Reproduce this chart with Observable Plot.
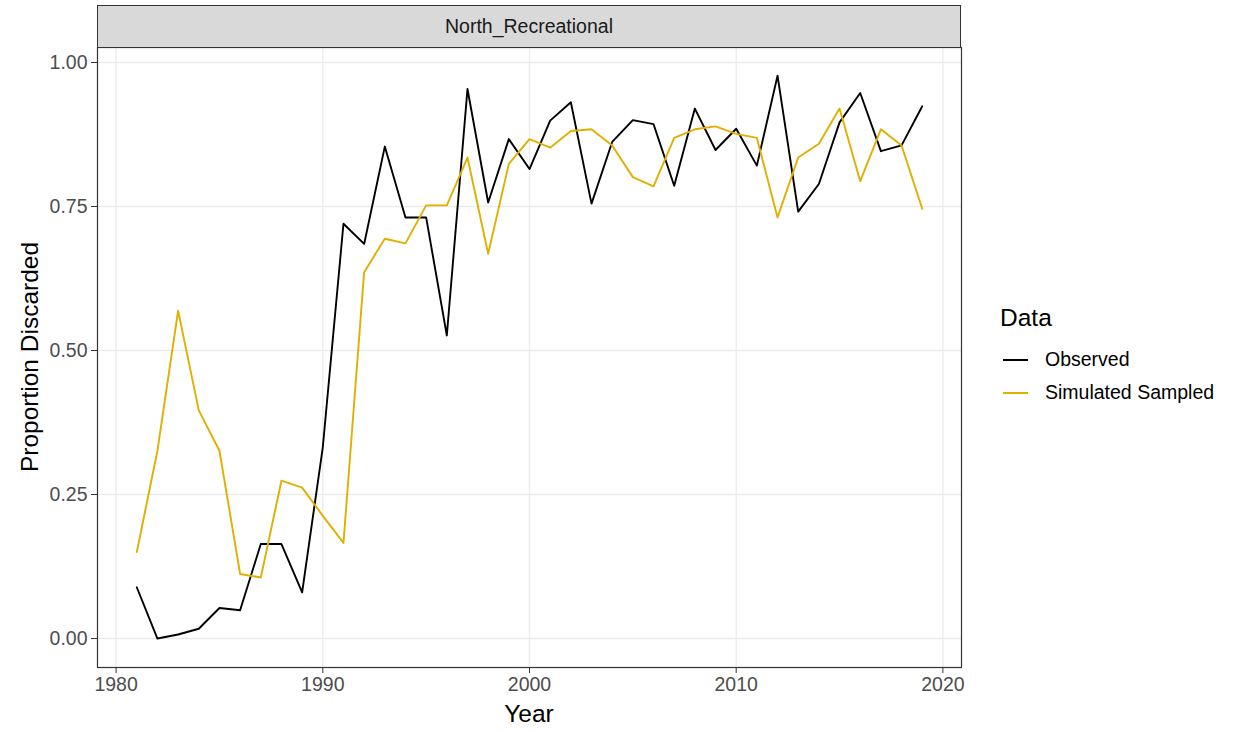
<!DOCTYPE html>
<html>
<head>
<meta charset="utf-8">
<script src="https://cdn.jsdelivr.net/npm/d3@7"></script>
<script src="https://cdn.jsdelivr.net/npm/@observablehq/plot@0.6"></script>
<style>
  body { margin: 0; background: #fff; font-family: "Liberation Sans", Arial, sans-serif; }
  #wrap { position: relative; width: 1235px; height: 732px; overflow: hidden; }
  #chart svg { position: absolute; left: 0; top: 0; }
  g[aria-label="x-axis tick label"], g[aria-label="y-axis tick label"] { fill: #4D4D4D; }
  .abs { position: absolute; white-space: nowrap; }
  #strip { left: 97px; top: 5px; width: 862px; height: 41px; background: #D9D9D9; border: 1px solid #333;
           display: flex; align-items: center; justify-content: center; font-size: 19.5px; color: #1A1A1A; }
  .title { font-size: 24.5px; color: #000; }
  .leg { font-size: 19.5px; color: #000; }
  .key { position: absolute; height: 2px; width: 25px; }
</style>
</head>
<body>
<div id="wrap">
  <div id="chart"></div>
</div>
<script>
const years = [1981,1982,1983,1984,1985,1986,1987,1988,1989,1990,
  1991,1992,1993,1994,1995,1996,1997,1998,1999,2000,
  2001,2002,2003,2004,2005,2006,2007,2008,2009,2010,
  2011,2012,2013,2014,2015,2016,2017,2018,2019];
const observed = [0.089,0.000,0.007,0.017,0.053,0.049,0.164,0.164,0.080,0.332,
  0.720,0.685,0.854,0.731,0.731,0.526,0.954,0.757,0.867,0.815,
  0.899,0.931,0.755,0.862,0.900,0.893,0.786,0.920,0.848,0.885,
  0.821,0.977,0.741,0.789,0.896,0.947,0.846,0.856,0.924];
const simulated = [0.150,0.326,0.569,0.396,0.326,0.112,0.106,0.274,0.262,0.213,
  0.166,0.636,0.694,0.686,0.752,0.752,0.835,0.668,0.824,0.867,
  0.852,0.881,0.884,0.856,0.801,0.785,0.869,0.884,0.889,0.876,
  0.869,0.731,0.835,0.859,0.920,0.794,0.884,0.856,0.746];
const seriesNames = ["Observed", "Simulated Sampled"];
const seriesColors = ["#000000", "#E1AF00"];
const xTicks = [1980, 1990, 2000, 2010, 2020];
const yTicks = [0, 0.25, 0.5, 0.75, 1];
const stripLabel = "North_Recreational";
const xTitle = "Year";
const yTitle = "Proportion Discarded";
const legendTitle = "Data";

const rows = [];
years.forEach((yr, i) => {
  rows.push({year: yr, value: observed[i], series: seriesNames[0]});
});
years.forEach((yr, i) => {
  rows.push({year: yr, value: simulated[i], series: seriesNames[1]});
});

const chart = Plot.plot({
  width: 1235, height: 732,
  marginLeft: 97, marginRight: 274, marginTop: 47, marginBottom: 65,
  style: {fontFamily: "'Liberation Sans', Arial, sans-serif", background: "transparent"},
  x: {domain: [1979.1, 2020.9]},
  y: {domain: [-0.0503, 1.026]},
  color: {domain: seriesNames, range: seriesColors},
  marks: [
    Plot.gridX(xTicks, {stroke: "#EBEBEB", strokeOpacity: 1, strokeWidth: 1.3}),
    Plot.gridY(yTicks, {stroke: "#EBEBEB", strokeOpacity: 1, strokeWidth: 1.3}),
    Plot.line(rows, {x: "year", y: "value", z: "series", stroke: "series", strokeWidth: 1.9}),
    Plot.frame({stroke: "#333333", strokeWidth: 1.2}),
    Plot.axisX(xTicks, {tickFormat: "d", tickSize: 6, tickPadding: 4, fontSize: 19.5, stroke: "#333", label: null}),
    Plot.axisY(yTicks, {tickFormat: d3.format(".2f"), tickSize: 6, tickPadding: 4, fontSize: 19.5, stroke: "#333", label: null})
  ]
});
const wrap = document.getElementById("wrap");
document.getElementById("chart").appendChild(chart);

function addDiv(cls, text, css) {
  const d = document.createElement("div");
  d.className = "abs " + cls;
  d.textContent = text;
  Object.assign(d.style, css);
  wrap.appendChild(d);
  return d;
}
const strip = addDiv("", stripLabel, {});
strip.id = "strip";
addDiv("title", xTitle, {left: "529px", top: "700px", transform: "translateX(-50%)"});
addDiv("title", yTitle, {left: "30px", top: "357px", transform: "translate(-50%,-50%) rotate(-90deg)"});
addDiv("title", legendTitle, {left: "1000px", top: "304px"});
seriesNames.forEach((name, i) => {
  const top = 348 + i * 33;
  addDiv("leg", name, {left: "1045px", top: top + "px"});
  const k = document.createElement("div");
  k.className = "key";
  Object.assign(k.style, {left: "1003px", top: (top + 11) + "px", background: seriesColors[i]});
  wrap.appendChild(k);
});
</script>
</body>
</html>
